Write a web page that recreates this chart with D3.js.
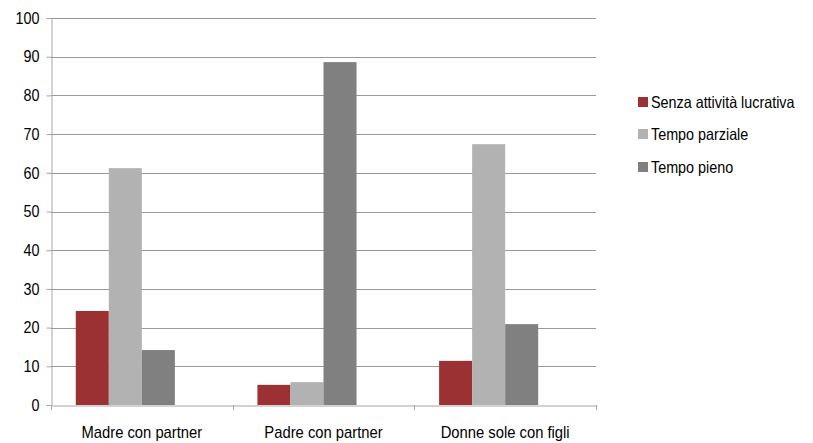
<!DOCTYPE html>
<html>
<head>
<meta charset="utf-8">
<script src="https://cdn.jsdelivr.net/npm/d3@7"></script>
<style>
  body { margin: 0; background: #fff; }
  svg text { font-family: "Liberation Sans", Arial, sans-serif; fill: #000; }
</style>
</head>
<body>
<svg id="chart" width="813" height="443"></svg>
<script>
const categories = ["Madre con partner", "Padre con partner", "Donne sole con figli"];
const seriesNames = ["Senza attività lucrativa", "Tempo parziale", "Tempo pieno"];
const senzaAttivita = [24.3, 5.2, 11.4];
const tempoParziale = [61.2, 5.9, 67.4];
const tempoPieno = [14.2, 88.6, 20.9];
const seriesColors = ["#9b3133", "#b2b2b2", "#808080"];
const yTicks = [0, 10, 20, 30, 40, 50, 60, 70, 80, 90, 100];

const seriesValues = [senzaAttivita, tempoParziale, tempoPieno];
const fontStack = '"Liberation Sans", Arial, sans-serif';
const squeeze = 0.87;   // condensed lettering
const fontSize = 16.5;

const svg = d3.select("#chart");
const plotLeft = 51, plotRight = 596, plotTop = 18, plotBottom = 405;

const x = d3.scaleBand().domain(categories).range([plotLeft, plotRight]).padding(0);
// four slots per group; the fourth stays empty
const xInner = d3.scaleBand().domain([0, 1, 2, 3]).range([0, x.bandwidth()]).paddingOuter(0.75).paddingInner(0);
const y = d3.scaleLinear().domain([0, 100]).range([plotBottom, plotTop]);

// gridlines
svg.append("g")
  .selectAll("line")
  .data(yTicks.filter(d => d > 0))
  .join("line")
  .attr("x1", plotLeft).attr("x2", plotRight)
  .attr("y1", d => Math.round(y(d)) + 0.5).attr("y2", d => Math.round(y(d)) + 0.5)
  .attr("stroke", "#999").attr("stroke-width", 1);

// y axis
const yAxis = svg.append("g")
  .attr("transform", `translate(${plotLeft + 0.5},0)`)
  .call(d3.axisLeft(y).tickValues(yTicks).tickSize(5).tickPadding(7));
yAxis.select(".domain").attr("stroke", "#a6a6a6");
yAxis.selectAll(".tick line").attr("stroke", "#a6a6a6");
yAxis.selectAll(".tick text")
  .attr("font-size", fontSize).attr("fill", "#000")
  .style("font-family", fontStack)
  .attr("x", -12 / squeeze)
  .attr("transform", `scale(${squeeze},1)`);

// bars
const groups = svg.append("g").selectAll("g")
  .data(categories)
  .join("g")
  .attr("transform", d => `translate(${x(d)},0)`);

groups.selectAll("rect")
  .data((c, i) => seriesValues.map((vals, s) => ({ s, v: vals[i] })))
  .join("rect")
  .attr("x", d => xInner(d.s))
  .attr("width", xInner.bandwidth())
  .attr("y", d => y(d.v))
  .attr("height", d => y(0) - y(d.v))
  .attr("fill", d => seriesColors[d.s]);

// x axis
const xAxis = svg.append("g")
  .attr("transform", `translate(0,${plotBottom + 0.5})`)
  .call(d3.axisBottom(x).tickSize(0).tickPadding(20));
xAxis.select(".domain").attr("stroke", "#a6a6a6");
xAxis.selectAll(".tick text")
  .attr("font-size", fontSize + 0.5).attr("fill", "#000")
  .style("font-family", fontStack)
  .attr("transform", `scale(${squeeze},1)`);

// category boundary ticks
svg.append("g").selectAll("line")
  .data(d3.range(categories.length + 1))
  .join("line")
  .attr("x1", i => Math.round(plotLeft + i * x.bandwidth()) + 0.5)
  .attr("x2", i => Math.round(plotLeft + i * x.bandwidth()) + 0.5)
  .attr("y1", plotBottom).attr("y2", plotBottom + 5)
  .attr("stroke", "#a6a6a6");

// legend
const legendY = [102, 134, 167];
const legend = svg.append("g").selectAll("g")
  .data(seriesNames)
  .join("g")
  .attr("transform", (d, i) => `translate(638,${legendY[i]})`);
legend.append("rect")
  .attr("x", 0).attr("y", -5).attr("width", 10).attr("height", 10)
  .attr("fill", (d, i) => seriesColors[i]);
legend.append("text")
  .attr("transform", `translate(13,0) scale(${squeeze},1)`)
  .attr("dy", "0.35em")
  .attr("font-size", fontSize)
  .text(d => d);
</script>
</body>
</html>
